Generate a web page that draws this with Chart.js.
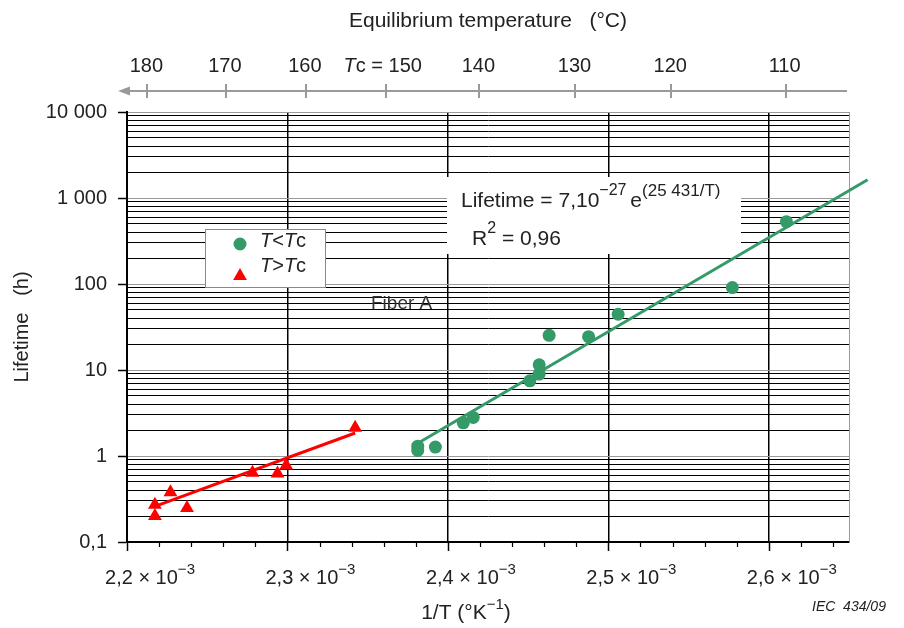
<!DOCTYPE html>
<html><head><meta charset="utf-8">
<script src="https://cdn.jsdelivr.net/npm/chart.js@4.4.1/dist/chart.umd.min.js"></script>
<style>html,body{margin:0;padding:0;background:#fff}canvas{display:block}</style>
</head><body>
<canvas id="c" width="904" height="628"></canvas>
<script>
const FONT = '"Liberation Sans", Arial, sans-serif';
const GREEN = '#349a68';
const RED = '#ff0000';
const TXT = '#222222';

// ---- data: x = 1/T (K^-1), y = lifetime (h) ----
const greenX = [2.3812e-3, 2.3812e-3, 2.3922e-3, 2.4096e-3, 2.4158e-3, 2.4511e-3, 2.4569e-3, 2.4569e-3, 2.4631e-3, 2.4877e-3, 2.5061e-3, 2.5773e-3, 2.6110e-3];
const greenY = [1.30, 1.16, 1.27, 2.43, 2.81, 7.48, 8.96, 11.5, 25.3, 24.4, 44.5, 90.8, 530];
const redX = [2.2174e-3, 2.2174e-3, 2.2271e-3, 2.2374e-3, 2.2782e-3, 2.2938e-3, 2.2992e-3, 2.3422e-3];
const redY = [0.272, 0.200, 0.379, 0.249, 0.637, 0.625, 0.774, 2.13];
const greenFitX = [2.381e-3, 2.6616e-3];
const greenFitY = [1.40, 1633];
const redFitX = [2.2174e-3, 2.3422e-3];
const redFitY = [0.259, 1.85];

// ---- axes ----
const xMin = 2.2e-3, xMax = 2.65e-3;
const xTickValues = [2.2e-3, 2.3e-3, 2.4e-3, 2.5e-3, 2.6e-3];
const xTickLabels = ['2,2', '2,3', '2,4', '2,5', '2,6'];
const xMinorStep = 0.02e-3;
const yMajorTicks = [0.1, 1, 10, 100, 1000, 10000];
const yTickLabels = ['0,1', '1', '10', '100', '1 000', '10 000'];
const topTickTemps = ['180', '170', '160', '150', '140', '130', '120', '110'];
const topTickPositions = [2.2127e-3, 2.2616e-3, 2.3115e-3, 2.3614e-3, 2.4196e-3, 2.4795e-3, 2.5392e-3, 2.6105e-3];

const pts = (xs, ys) => xs.map((x, i) => ({x, y: ys[i]}));
const isMajorY = v => yMajorTicks.some(m => Math.abs(m - v) / m < 1e-6);

function font(size, italic) { return (italic ? 'italic ' : '') + size + 'px ' + FONT; }
function drawRich(ctx, parts, x, y, align) {
  let w = 0;
  parts.forEach(p => { ctx.font = font(p.size, p.italic); p.w = ctx.measureText(p.t).width; w += p.w; });
  let cx = align === 'center' ? x - w / 2 : align === 'right' ? x - w : x;
  ctx.textAlign = 'left'; ctx.textBaseline = 'alphabetic';
  parts.forEach(p => { ctx.font = font(p.size, p.italic); ctx.fillText(p.t, cx, y + (p.dy || 0)); cx += p.w; });
}

const decor = {
  id: 'decor',
  beforeDatasetsDraw(chart) {
    const {ctx, chartArea: a} = chart;
    ctx.save();
    ctx.strokeStyle = '#9a9a9a'; ctx.lineWidth = 1;
    ctx.beginPath(); ctx.moveTo(a.right + 0.5, a.top); ctx.lineTo(a.right + 0.5, a.bottom); ctx.stroke();
    ctx.fillStyle = '#fff';
    ctx.fillRect(447, 177, 294, 77);
    ctx.fillRect(205, 229, 121, 59);
    ctx.strokeStyle = '#8a8a8a'; ctx.lineWidth = 1;
    ctx.strokeRect(205.5, 229.5, 120, 58);
    ctx.restore();
  },
  afterDatasetsDraw(chart) {
    const {ctx} = chart;
    ctx.save();
    const ds = chart.data.datasets;
    ctx.fillStyle = ds[2].backgroundColor;
    Chart.helpers.drawPoint(ctx, {pointStyle: ds[2].pointStyle, radius: ds[2].pointRadius, rotation: 0, borderWidth: 0}, 240, 244);
    ctx.fillStyle = ds[3].backgroundColor;
    Chart.helpers.drawPoint(ctx, {pointStyle: ds[3].pointStyle, radius: ds[3].pointRadius, rotation: 0, borderWidth: 0}, 240, 276);
    ctx.fillStyle = TXT;
    drawRich(ctx, [{t: 'T', size: 20, italic: true}, {t: '<', size: 20}, {t: 'T', size: 20, italic: true}, {t: 'c', size: 20}], 260, 247, 'left');
    drawRich(ctx, [{t: 'T', size: 20, italic: true}, {t: '>', size: 20}, {t: 'T', size: 20, italic: true}, {t: 'c', size: 20}], 260, 272, 'left');
    ctx.fillStyle = '#333';
    drawRich(ctx, [{t: 'Fiber A', size: 19}], 371, 309, 'left');
    ctx.fillStyle = TXT;
    drawRich(ctx, [{t: 'Lifetime = 7,10', size: 21}, {t: '\u221227', size: 16, dy: -12}, {t: ' ', size: 14}, {t: 'e', size: 21}, {t: '(25 431/T)', size: 17, dy: -11}], 461, 207, 'left');
    drawRich(ctx, [{t: 'R', size: 21}, {t: '2', size: 16, dy: -12}, {t: ' = 0,96', size: 21}], 472, 245, 'left');
    ctx.restore();
  },
  afterDraw(chart) {
    const {ctx, chartArea: a, scales: {x, x2}} = chart;
    ctx.save();
    ctx.strokeStyle = '#000';
    for (let v = xMin; v <= xMax + 1e-12; v += xMinorStep) {
      const px = Math.round(x.getPixelForValue(v)) + 0.5;
      const major = xTickValues.some(t => Math.abs(t - v) < 1e-9);
      ctx.lineWidth = major ? 1.5 : 1.2;
      ctx.beginPath(); ctx.moveTo(px, a.bottom); ctx.lineTo(px, a.bottom + (major ? 9 : 5)); ctx.stroke();
    }
    ctx.fillStyle = TXT;
    xTickValues.forEach((v, i) => {
      const px = x.getPixelForValue(v);
      drawRich(ctx, [{t: xTickLabels[i] + ' \u00d7 10', size: 20}, {t: '\u22123', size: 15, dy: -10}], px + 23, 584, 'center');
    });
    drawRich(ctx, [{t: '1/T (\u00b0K', size: 21}, {t: '\u22121', size: 15, dy: -10}, {t: ')', size: 21}], 466, 619, 'center');
    const yA = 91;
    ctx.strokeStyle = '#9a9a9a'; ctx.fillStyle = '#9a9a9a'; ctx.lineWidth = 2;
    ctx.beginPath(); ctx.moveTo(128, yA); ctx.lineTo(a.right - 2, yA); ctx.stroke();
    ctx.beginPath(); ctx.moveTo(118, yA); ctx.lineTo(130, yA - 4.5); ctx.lineTo(130, yA + 4.5); ctx.closePath(); ctx.fill();
    topTickPositions.forEach((p) => {
      const px = Math.round(x2.getPixelForValue(p));
      ctx.beginPath(); ctx.moveTo(px, yA - 7); ctx.lineTo(px, yA + 7); ctx.stroke();
    });
    ctx.fillStyle = TXT;
    topTickPositions.forEach((p, i) => {
      const px = x2.getPixelForValue(p);
      if (topTickTemps[i] === '150') {
        drawRich(ctx, [{t: 'T', size: 20, italic: true}, {t: 'c = ' + topTickTemps[i], size: 20}], px + 36, 72, 'right');
      } else {
        drawRich(ctx, [{t: topTickTemps[i], size: 20}], px - 1, 72, 'center');
      }
    });
    drawRich(ctx, [{t: 'IEC  434/09', size: 14, italic: true}], 812, 611, 'left');
    ctx.restore();
  }
};

new Chart(document.getElementById('c'), {
  type: 'scatter',
  data: {
    datasets: [
      {label: 'fit T<Tc', data: pts(greenFitX, greenFitY), showLine: true, borderColor: GREEN, borderWidth: 3, pointRadius: 0, clip: false, order: 2},
      {label: 'fit T>Tc', data: pts(redFitX, redFitY), showLine: true, borderColor: RED, borderWidth: 3, pointRadius: 0, clip: false, order: 2},
      {label: 'T<Tc', data: pts(greenX, greenY), pointStyle: 'circle', pointRadius: 6.5, backgroundColor: GREEN, borderWidth: 0, order: 1},
      {label: 'T>Tc', data: pts(redX, redY), pointStyle: 'triangle', pointRadius: 8, backgroundColor: RED, borderWidth: 0, order: 1}
    ]
  },
  options: {
    responsive: false, animation: false, devicePixelRatio: 1,
    layout: {padding: {left: 0, right: 55, top: 0, bottom: 0}},
    plugins: {legend: {display: false}, tooltip: {enabled: false}},
    scales: {
      x: {
        type: 'linear', position: 'bottom', min: xMin, max: xMax,
        afterBuildTicks: s => { s.ticks = xTickValues.map(v => ({value: v})); },
        ticks: {display: false},
        grid: {color: c => (c.tick && c.tick.value > xMin + 1e-9) ? '#000' : 'rgba(0,0,0,0)', lineWidth: 1.5, drawTicks: false},
        border: {color: '#000', width: 2},
        afterFit: s => { s.height = 86; }
      },
      x2: {
        type: 'linear', position: 'top', min: xMin, max: xMax,
        grid: {display: false}, border: {display: false}, ticks: {display: false},
        title: {display: true, text: 'Equilibrium temperature   (\u00b0C)', font: {family: FONT, size: 21}, color: TXT, padding: {top: 9, bottom: 0}},
        afterFit: s => { s.height = 112; }
      },
      y: {
        type: 'logarithmic', min: 0.1, max: 10000,
        afterBuildTicks: s => {
          const t = [];
          yMajorTicks.forEach((m, i) => {
            t.push({value: m, major: true});
            if (i < yMajorTicks.length - 1) for (let k = 2; k <= 9; k++) t.push({value: m * k});
          });
          s.ticks = t;
        },
        ticks: {
          autoSkip: false, padding: 11, font: {family: FONT, size: 20}, color: TXT,
          callback: v => { const i = yMajorTicks.findIndex(m => Math.abs(m - v) / m < 1e-6); return i >= 0 ? yTickLabels[i] : ''; }
        },
        grid: {
          color: c => isMajorY(c.tick.value) ? '#9a9a9a' : '#000', lineWidth: 1,
          tickLength: 9, tickWidth: 1.5, tickColor: c => isMajorY(c.tick.value) ? '#000' : 'rgba(0,0,0,0)'
        },
        border: {color: '#000', width: 2},
        title: {display: true, text: 'Lifetime   (h)', font: {family: FONT, size: 20}, color: TXT, padding: {top: 10, bottom: 0}},
        afterFit: s => { s.width = 127; }
      }
    }
  },
  plugins: [decor]
});
</script>
</body></html>
